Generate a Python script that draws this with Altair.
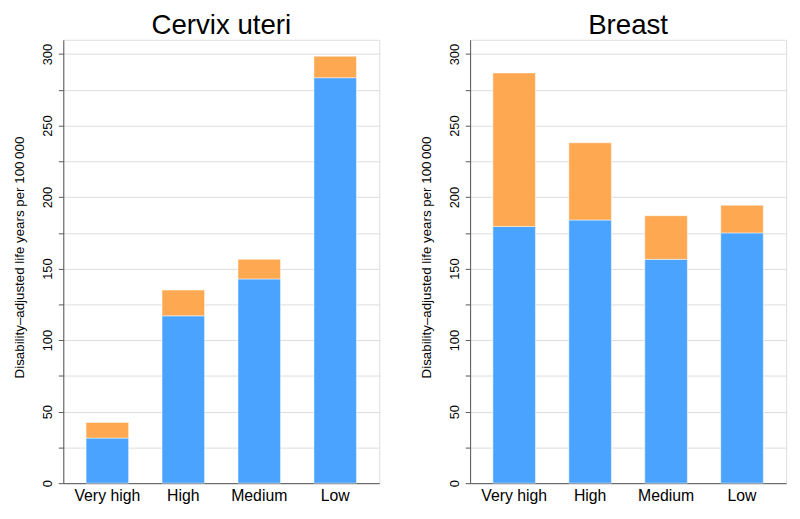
import altair as alt
import pandas as pd

categories = ["Very high", "High", "Medium", "Low"]
cervix_blue = [31.5, 117.0, 142.8, 283.5]
cervix_total = [42.5, 135.0, 156.5, 298.5]
breast_blue = [179.5, 184.0, 156.5, 175.0]
breast_total = [286.8, 238.0, 187.0, 194.3]

segments = ["Base", "Extra"]
colors = ["#4AA3FF", "#FFA852"]
y_title = "Disability\u2013adjusted life years per 100\u2009000"
FONT = "Liberation Sans"


def panel(title, blue, total):
    rows = []
    for c, b, t in zip(categories, blue, total):
        rows.append({"cat": c, "seg": "Base", "lo": 0.0, "hi": b})
        rows.append({"cat": c, "seg": "Extra", "lo": b, "hi": t})
    df = pd.DataFrame(rows)
    return (
        alt.Chart(df, title=alt.TitleParams(title, fontSize=28, font=FONT, fontWeight="normal",
                                            anchor="middle", offset=0, color="black"))
        .mark_bar(strokeWidth=0.8, strokeOpacity=0.6, stroke="#ffffff")
        .encode(
            x=alt.X("cat:N", sort=categories, title=None,
                    scale=alt.Scale(paddingInner=0.44, paddingOuter=0.3),
                    axis=alt.Axis(labelAngle=0, ticks=False, labelFontSize=16, labelPadding=5,
                                  domainColor="#555555", grid=False, labelColor="black", labelFont=FONT)),
            y=alt.Y("hi:Q", title=y_title,
                    scale=alt.Scale(domain=[0, 310], nice=False, zero=True),
                    axis=alt.Axis(values=list(range(0, 301, 25)),
                                  labelExpr="datum.value % 50 == 0 ? datum.label : ''",
                                  labelAngle=-90, labelAlign="center", labelBaseline="bottom",
                                  labelFontSize=13, labelPadding=4, labelColor="black", labelFont=FONT,
                                  tickSize=5, tickColor="#555555", domainColor="#555555",
                                  gridColor="#dcdcdc", gridWidth=1,
                                  titleFontSize=13.5, titleFontWeight="normal", titleFont=FONT,
                                  titleColor="black", titleAngle=-90, titleX=-44, titleY=220,
                                  titleAlign="center", titleBaseline="middle")),
            y2="lo:Q",
            color=alt.Color("seg:N", scale=alt.Scale(domain=segments, range=colors), legend=None),
        )
        .properties(width=320, height=449)
    )


chart = (
    alt.hconcat(panel("Cervix uteri", cervix_blue, cervix_total),
                panel("Breast", breast_blue, breast_total), spacing=39)
    .properties(padding={"left": 4, "top": 0, "right": 5, "bottom": 5})
    .configure_view(stroke=None)
    .configure(background="white")
)

chart.save("out.html", embed_options={"renderer": "svg", "actions": False})
